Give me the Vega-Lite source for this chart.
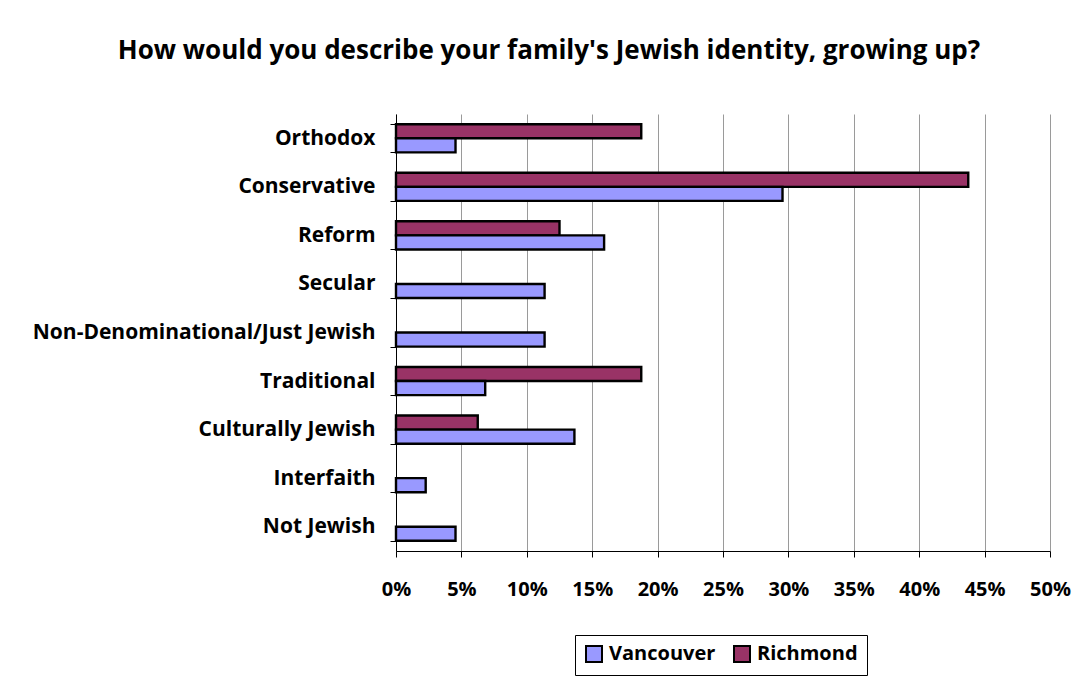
{
  "$schema": "https://vega.github.io/schema/vega-lite/v6.json",
  "width": 654,
  "height": 437,
  "autosize": {"type": "none"},
  "padding": {"left": 396, "top": 114, "right": 37, "bottom": 128},
  "background": "white",
  "title": {
    "text": "How would you describe your family's Jewish identity, growing up?",
    "font": "Open Sans",
    "fontSize": 26,
    "fontWeight": "bold",
    "color": "black",
    "anchor": "middle",
    "frame": "group",
    "dx": -174,
    "baseline": "alphabetic",
    "offset": 18
  },
  "data": {
    "values": [
      {"identity": "Orthodox", "series": "Richmond", "share": 0.1875},
      {"identity": "Orthodox", "series": "Vancouver", "share": 0.0455},
      {"identity": "Conservative", "series": "Richmond", "share": 0.4375},
      {"identity": "Conservative", "series": "Vancouver", "share": 0.2955},
      {"identity": "Reform", "series": "Richmond", "share": 0.125},
      {"identity": "Reform", "series": "Vancouver", "share": 0.1591},
      {"identity": "Secular", "series": "Vancouver", "share": 0.1136},
      {"identity": "Non-Denominational/Just Jewish", "series": "Vancouver", "share": 0.1136},
      {"identity": "Traditional", "series": "Richmond", "share": 0.1875},
      {"identity": "Traditional", "series": "Vancouver", "share": 0.0682},
      {"identity": "Culturally Jewish", "series": "Richmond", "share": 0.0625},
      {"identity": "Culturally Jewish", "series": "Vancouver", "share": 0.1364},
      {"identity": "Interfaith", "series": "Vancouver", "share": 0.0227},
      {"identity": "Not Jewish", "series": "Vancouver", "share": 0.0455}
    ]
  },
  "mark": {"type": "bar", "stroke": "black", "strokeWidth": 2.4, "fillOpacity": 1},
  "encoding": {
    "y": {
      "field": "identity",
      "type": "nominal",
      "sort": ["Orthodox", "Conservative", "Reform", "Secular", "Non-Denominational/Just Jewish", "Traditional", "Culturally Jewish", "Interfaith", "Not Jewish"],
      "scale": {"paddingInner": 0.42, "paddingOuter": 0.21},
      "axis": {
        "title": null,
        "tickBand": "extent",
        "tickSize": 6,
        "tickColor": "black",
        "domainColor": "black",
        "labelPadding": 15,
        "labelLimit": 0,
        "labelFont": "Open Sans",
        "labelFontSize": 21,
        "labelFontWeight": "bold",
        "labelColor": "black",
        "grid": false
      }
    },
    "yOffset": {
      "field": "series",
      "type": "nominal",
      "sort": ["Richmond", "Vancouver"]
    },
    "x": {
      "field": "share",
      "type": "quantitative",
      "scale": {"domain": [0, 0.5], "nice": false},
      "axis": {
        "title": null,
        "format": ".0%",
        "values": [0, 0.05, 0.1, 0.15, 0.2, 0.25, 0.3, 0.35, 0.4, 0.45, 0.5],
        "grid": true,
        "gridColor": "#9a9a9a",
        "gridWidth": 1,
        "tickSize": 6,
        "tickColor": "black",
        "domainColor": "black",
        "labelFlush": false,
        "labelPadding": 22,
        "labelFont": "Open Sans",
        "labelFontSize": 20,
        "labelFontWeight": "bold",
        "labelColor": "black"
      }
    },
    "color": {
      "field": "series",
      "type": "nominal",
      "scale": {"domain": ["Vancouver", "Richmond"], "range": ["#9999FF", "#993366"]},
      "legend": {
        "title": null,
        "orient": "none",
        "direction": "horizontal",
        "legendX": 179,
        "legendY": 521,
        "strokeColor": "black",
        "padding": 9,
        "symbolType": "square",
        "symbolSize": 256,
        "symbolStrokeColor": "black",
        "symbolStrokeWidth": 2,
        "symbolOpacity": 1,
        "labelFont": "Open Sans",
        "labelFontSize": 20,
        "labelFontWeight": "bold",
        "labelColor": "black",
        "columnPadding": 14,
        "labelOffset": 5
      }
    }
  },
  "config": {
    "view": {"stroke": null}
  }
}
